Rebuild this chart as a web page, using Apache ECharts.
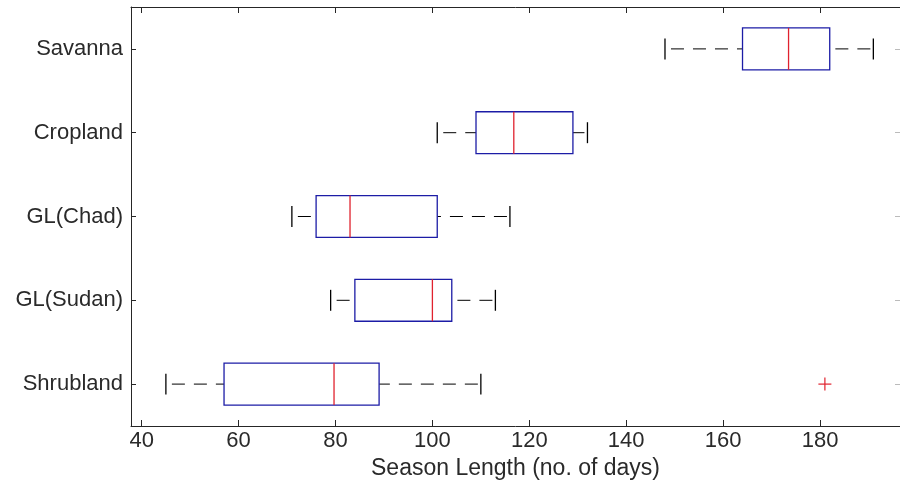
<!DOCTYPE html>
<html>
<head>
<meta charset="utf-8">
<script src="https://cdn.jsdelivr.net/npm/echarts@6/dist/echarts.min.js"></script>
<style>
html,body{margin:0;padding:0;background:#fff;}
#chart{width:900px;height:485px;}
</style>
</head>
<body>
<div id="chart"></div>
<script>
// Data (top-to-bottom order)
var categories = ['Savanna', 'Cropland', 'GL(Chad)', 'GL(Sudan)', 'Shrubland'];
var lowWhisker = [148, 101, 71, 79, 45];
var q1Values = [164, 109, 76, 84, 57];
var medianValues = [173.5, 116.8, 83, 100, 79.7];
var q3Values = [182, 129, 101, 104, 89];
var highWhisker = [191, 132, 116, 113, 110];
var outlierCategories = ['Shrubland'];
var outlierValues = [181];
var xTickValues = [40, 60, 80, 100, 120, 140, 160, 180];

var boxData = categories.map(function (c, i) {
  return [i, lowWhisker[i], q1Values[i], medianValues[i], q3Values[i], highWhisker[i]];
});
var outData = outlierCategories.map(function (c, i) {
  return [outlierValues[i], categories.indexOf(c)];
});

var BOX_BLUE = '#1c1ca6';
var MED_RED = '#e0222e';
var AX = '#262626';
var TXT = '#2a2a2a';
var FONT = 'Liberation Sans';

function renderBox(params, api) {
  var ci = api.value(0);
  var lo = api.coord([api.value(1), ci]);
  var q1 = api.coord([api.value(2), ci]);
  var md = api.coord([api.value(3), ci]);
  var q3 = api.coord([api.value(4), ci]);
  var hi = api.coord([api.value(5), ci]);
  var band = api.size([0, 1])[1];
  var bh = band * 0.5;
  var ch = band * 0.25;
  var y = lo[1];
  var dashL = {stroke: '#000', lineWidth: 1, lineDash: [13, 9], lineDashOffset: 16};
  var dashR = {stroke: '#000', lineWidth: 1, lineDash: [13, 9], lineDashOffset: 19};
  var solid = {stroke: '#000', lineWidth: 1.3};
  return {
    type: 'group',
    children: [
      {type: 'line', shape: {x1: lo[0], y1: y, x2: q1[0], y2: y}, style: dashL},
      {type: 'line', shape: {x1: hi[0], y1: y, x2: q3[0], y2: y}, style: dashR},
      {type: 'line', shape: {x1: lo[0], y1: y - ch / 2, x2: lo[0], y2: y + ch / 2}, style: solid},
      {type: 'line', shape: {x1: hi[0], y1: y - ch / 2, x2: hi[0], y2: y + ch / 2}, style: solid},
      {type: 'rect', shape: {x: q1[0], y: y - bh / 2, width: q3[0] - q1[0], height: bh},
        style: {fill: '#fff', stroke: BOX_BLUE, lineWidth: 1.3}},
      {type: 'line', shape: {x1: md[0], y1: y - bh / 2, x2: md[0], y2: y + bh / 2},
        style: {stroke: MED_RED, lineWidth: 1.3}}
    ]
  };
}

function renderOutlier(params, api) {
  var p = api.coord([api.value(0), api.value(1)]);
  var s = 6.5;
  var st = {stroke: MED_RED, lineWidth: 1.2};
  return {
    type: 'group',
    children: [
      {type: 'line', shape: {x1: p[0] - s, y1: p[1], x2: p[0] + s, y2: p[1]}, style: st},
      {type: 'line', shape: {x1: p[0], y1: p[1] - s, x2: p[0], y2: p[1] + s}, style: st}
    ]
  };
}

var chart = echarts.init(document.getElementById('chart'), null, {renderer: 'canvas'});
var xCommon = {
  type: 'value', min: 37.8, max: 196.5,
  splitLine: {show: false},
  axisLine: {show: true, onZero: false, lineStyle: {color: AX, width: 1}}
};
chart.setOption({
  animation: false,
  backgroundColor: '#fff',
  grid: {left: 131, top: 7, width: 771, height: 421, containLabel: false},
  xAxis: [
    Object.assign({}, xCommon, {
      position: 'bottom',
      axisTick: {show: true, inside: true, length: 6, customValues: xTickValues, lineStyle: {color: AX}},
      axisLabel: {show: true, customValues: xTickValues, margin: 4, color: TXT,
        fontFamily: FONT, fontSize: 22},
      name: 'Season Length (no. of days)',
      nameLocation: 'middle', nameGap: 31,
      nameTextStyle: {color: TXT, fontFamily: FONT, fontSize: 23}
    }),
    Object.assign({}, xCommon, {
      position: 'top',
      axisTick: {show: true, inside: true, length: 6, customValues: xTickValues, lineStyle: {color: AX}},
      axisLabel: {show: false}
    })
  ],
  yAxis: [
    {
      type: 'category', data: categories, inverse: true, position: 'left',
      axisLine: {show: true, lineStyle: {color: AX, width: 1}},
      axisTick: {show: true, inside: true, length: 5, alignWithLabel: true, lineStyle: {color: AX}},
      axisLabel: {margin: 8, color: TXT, fontFamily: FONT, fontSize: 22},
      splitLine: {show: false}
    },
    {
      type: 'category', data: categories, inverse: true, position: 'right',
      axisLine: {show: true, lineStyle: {color: AX, width: 1}},
      axisTick: {show: true, inside: true, length: 5, alignWithLabel: true, lineStyle: {color: '#bbb'}},
      axisLabel: {show: false},
      splitLine: {show: false}
    }
  ],
  series: [
    {type: 'custom', xAxisIndex: 0, yAxisIndex: 0, renderItem: renderBox,
      encode: {x: [1, 2, 3, 4, 5], y: 0}, data: boxData, clip: false},
    {type: 'custom', xAxisIndex: 0, yAxisIndex: 0, renderItem: renderOutlier,
      encode: {x: 0, y: 1}, data: outData}
  ]
});
</script>
</body>
</html>
